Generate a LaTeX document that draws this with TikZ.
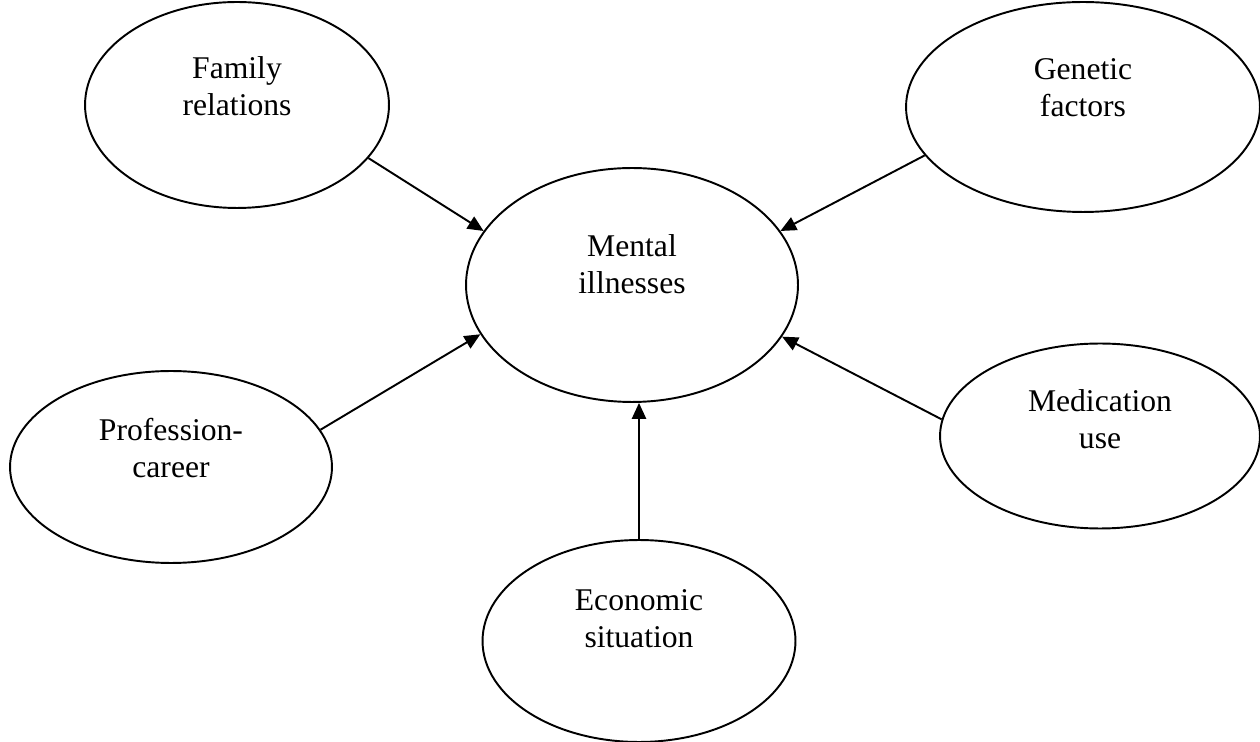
\documentclass[tikz,border=0pt]{standalone}
\usepackage{fontspec}
\setmainfont{Liberation Serif}
\usetikzlibrary{shapes.geometric}
\usetikzlibrary{arrows.meta}
\newcommand{\twolines}[3][9.5pt]{\raisebox{#1}[\height][\depth]{\begin{tabular}{@{}c@{}}#2\\#3\end{tabular}}}

\begin{document}
\begin{tikzpicture}[x=0.02cm, y=-0.02cm, line width=1.1pt,
		factor/.style={ellipse, draw, inner sep=0pt, font=\fontsize{18}{21}\selectfont},
		cause/.style={-{Triangle[length=9pt, width=8pt]}}]
		\useasboundingbox (0,0) rectangle (1260,742);
		\node (ill) at (632,285) [factor, minimum width=6.64cm, minimum height=4.68cm] {\twolines[10pt]{Mental}{illnesses}};
		\node (family) at (237,105) [factor, minimum width=6.08cm, minimum height=4.12cm] {\twolines[8.5pt]{Family}{relations}};
		\node (genetic) at (1083,107) [factor, minimum width=7.08cm, minimum height=4.2cm] {\twolines{Genetic}{factors}};
		\node (career) at (171,467) [factor, minimum width=6.44cm, minimum height=3.84cm] {\twolines[9pt]{Profession-}{career}};
		\node (drugs) at (1100,436) [factor, minimum width=6.4cm, minimum height=3.7cm] {\twolines[7.5pt]{Medication}{use}};
		\node (economy) at (639,641) [factor, minimum width=6.26cm, minimum height=4.04cm] {\twolines[11pt]{Economic}{situation}};
		%Pfeile
		\draw [cause] (family.-22) to (ill.160);
		\draw [cause] (genetic.-163) to (ill.20);
		\draw [cause] (career.14) to (ill.-162);
		\draw [cause] (drugs.174) to (ill.-19);
		\draw [cause] (economy.north) to (economy.north |- ill.south);
	\end{tikzpicture}
\end{document}
